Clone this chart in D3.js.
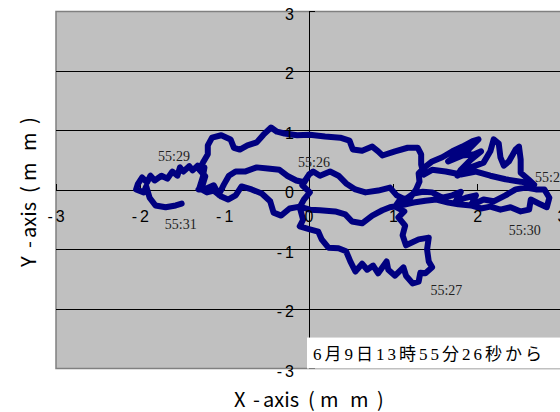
<!DOCTYPE html>
<html>
<head>
<meta charset="utf-8">
<script src="https://cdn.jsdelivr.net/npm/d3@7"></script>
<style>
html,body{margin:0;padding:0;background:#fff;}
svg{display:block;}
</style>
</head>
<body>
<svg id="chart" width="560" height="412"></svg>
<script>
// ---- data (mm) ----
const xTicks = [-3, -2, -1, 0, 1, 2, 3];
const yTicks = [-3, -2, -1, 0, 1, 2, 3];
const gridY = [-2, -1, 1, 2];

// trajectory segments, each from one time mark to the next
const seg26to27 = [[-0.02,0.21],[-0.08,0.08],[0.01,-0.04],[-0.06,-0.16],[-0.11,-0.29],[-0.07,-0.50],[-0.11,-0.61],[0.01,-0.66],[0.11,-0.70],[0.15,-0.83],[0.23,-0.97],[0.35,-0.98],[0.44,-1.03],[0.49,-1.20],[0.55,-1.37],[0.63,-1.24],[0.69,-1.34],[0.76,-1.27],[0.82,-1.40],[0.92,-1.20],[0.94,-1.34],[1.02,-1.44],[1.12,-1.30],[1.15,-1.44],[1.23,-1.57],[1.30,-1.54],[1.32,-1.39],[1.38,-1.40],[1.46,-1.30]];
const seg27to28 = [[1.42,-1.20],[1.40,-1.00],[1.42,-0.80],[1.30,-0.83],[1.15,-0.93],[1.11,-0.76],[1.14,-0.60],[1.06,-0.46],[1.13,-0.36],[1.02,-0.28],[1.08,-0.16],[1.20,-0.13],[1.27,0.01],[1.31,0.14],[1.30,0.28],[1.37,0.38],[1.46,0.48],[1.58,0.55],[1.70,0.65],[1.82,0.73],[1.94,0.82],[2.01,0.85],[1.89,0.68],[1.74,0.58],[1.65,0.48],[1.82,0.58],[1.96,0.60],[2.04,0.65],[1.92,0.51],[1.80,0.34],[1.76,0.24],[1.92,0.38],[2.07,0.46],[2.15,0.65],[2.19,0.85],[2.25,0.78],[2.27,0.55],[2.31,0.41],[2.37,0.48],[2.45,0.68],[2.49,0.73],[2.51,0.51],[2.51,0.29],[2.60,0.18],[2.67,0.09]];
const seg28to29 = [[2.51,0.14],[2.33,0.18],[2.15,0.24],[1.98,0.31],[1.80,0.26],[1.62,0.31],[1.46,0.34],[1.36,0.26],[1.33,0.43],[1.33,0.60],[1.29,0.71],[1.17,0.71],[1.02,0.65],[0.87,0.58],[0.82,0.65],[0.75,0.73],[0.63,0.66],[0.52,0.68],[0.48,0.83],[0.37,0.88],[0.19,0.90],[0.01,0.93],[-0.14,0.92],[-0.29,0.95],[-0.38,0.98],[-0.45,1.05],[-0.54,0.93],[-0.62,0.80],[-0.73,0.75],[-0.82,0.68],[-0.89,0.71],[-0.93,0.85],[-1.04,0.92],[-1.15,0.88],[-1.20,0.75],[-1.20,0.60],[-1.25,0.48]];
const seg29to30 = [[-1.30,0.34],[-1.23,0.23],[-1.26,0.09],[-1.31,0.01],[-1.21,0.03],[-1.13,0.08],[-1.07,-0.08],[-1.01,0.09],[-0.95,0.24],[-0.87,0.31],[-0.76,0.31],[-0.62,0.38],[-0.49,0.36],[-0.35,0.34],[-0.26,0.24],[-0.15,0.16],[-0.06,0.13],[0,0.26],[0.05,0.31],[0.13,0.24],[0.25,0.31],[0.35,0.24],[0.44,0.11],[0.55,0.01],[0.67,-0.04],[0.82,-0.01],[0.96,0.04],[1.04,-0.09],[1.14,-0.16],[1.24,-0.06],[1.35,-0.03],[1.46,-0.04],[1.58,-0.13],[1.70,-0.09],[1.80,-0.03],[1.74,-0.19],[1.86,-0.13],[1.98,-0.09],[1.92,-0.26],[2.07,-0.16],[2.19,-0.19],[2.33,-0.09],[2.45,0.01],[2.57,0.04],[2.69,0.01],[2.79,0.01],[2.85,-0.13],[2.82,-0.29],[2.73,-0.23],[2.63,-0.16],[2.61,-0.33],[2.51,-0.36]];
const seg30to31 = [[2.39,-0.29],[2.27,-0.33],[2.15,-0.28],[2.04,-0.31],[1.92,-0.26],[1.77,-0.24],[1.65,-0.21],[1.51,-0.16],[1.38,-0.18],[1.24,-0.21],[1.08,-0.26],[0.96,-0.29],[0.87,-0.34],[0.75,-0.43],[0.63,-0.56],[0.51,-0.53],[0.43,-0.41],[0.31,-0.36],[0.13,-0.34],[0.01,-0.33],[-0.11,-0.28],[-0.23,-0.31],[-0.33,-0.43],[-0.42,-0.38],[-0.46,-0.19],[-0.56,-0.06],[-0.68,0.01],[-0.80,0.06],[-0.87,-0.09],[-0.96,-0.16],[-1.04,-0.11],[-1.13,-0.01],[-1.21,-0.04],[-1.30,0.03],[-1.26,0.21],[-1.24,0.38],[-1.32,0.41],[-1.38,0.33],[-1.42,0.40],[-1.49,0.31],[-1.53,0.38],[-1.56,0.24],[-1.62,0.31],[-1.68,0.19],[-1.75,0.24],[-1.83,0.16],[-1.88,0.24],[-1.92,0.13],[-1.98,0.21],[-2.03,0.10],[-2.05,0.01],[-1.96,-0.04],[-1.93,0.06],[-1.89,-0.13],[-1.82,-0.26],[-1.70,-0.29],[-1.58,-0.26],[-1.51,-0.23]];

// time labels (text anchor position in mm)
const timeLabels = ["55:26", "55:27", "55:28", "55:29", "55:30", "55:31"];
const timeLabelX = [-0.13, 1.44, 2.68, -1.79, 2.37, -1.71];
const timeLabelY = [0.39, -1.76, 0.14, 0.48, -0.75, -0.66];

const noteText = "6月9日13時55分26秒から";
const xTitleParts = ["X", "-", "axis", "(", "m", "m", ")"];
const yTitleParts = ["Y", "-", "axis", "(", "m", "m", ")"];

// ---- drawing ----
const svg = d3.select("#chart");
const x = d3.scaleLinear().domain([-3, 3]).range([56, 562]);
const y = d3.scaleLinear().domain([-3, 3]).range([368.5, 11.5]);

// plot area
svg.append("rect")
  .attr("x", x(-3)).attr("y", y(3))
  .attr("width", x(3) - x(-3)).attr("height", y(-3) - y(3))
  .attr("fill", "#C0C0C0").attr("stroke", "#808080").attr("stroke-width", 1.5);

// gridlines
svg.append("g").selectAll("line").data(gridY).join("line")
  .attr("x1", x(-3)).attr("x2", x(3))
  .attr("y1", d => y(d)).attr("y2", d => y(d))
  .attr("stroke", "#000").attr("stroke-width", 1).attr("shape-rendering", "crispEdges");

// x axis line at y=0
svg.append("line").attr("x1", x(-3)).attr("x2", x(3)).attr("y1", y(0)).attr("y2", y(0))
  .attr("stroke", "#000").attr("stroke-width", 1).attr("shape-rendering", "crispEdges");
// y axis line at x=0
svg.append("line").attr("x1", x(0)).attr("x2", x(0)).attr("y1", y(3)).attr("y2", y(-3))
  .attr("stroke", "#000").attr("stroke-width", 1).attr("shape-rendering", "crispEdges");

// tick marks
svg.append("g").selectAll("line").data(xTicks).join("line")
  .attr("x1", d => x(d)).attr("x2", d => x(d))
  .attr("y1", y(0)).attr("y2", y(0) - 6)
  .attr("stroke", "#000").attr("shape-rendering", "crispEdges");
svg.append("g").selectAll("line").data(yTicks).join("line")
  .attr("x1", x(0)).attr("x2", x(0) + 6)
  .attr("y1", d => y(d)).attr("y2", d => y(d))
  .attr("stroke", "#000").attr("shape-rendering", "crispEdges");

// trajectory
const allSegs = [seg26to27, seg27to28, seg28to29, seg29to30, seg30to31];
const track = [].concat(...allSegs);
const line = d3.line().x(d => x(d[0])).y(d => y(d[1])).curve(d3.curveLinear);
svg.append("path").datum(track)
  .attr("d", line)
  .attr("fill", "none").attr("stroke", "#000080").attr("stroke-width", 6)
  .attr("stroke-linejoin", "round").attr("stroke-linecap", "round");

// tick labels
function tickLabel(sel, d) {
  if (d < 0) {
    sel.append("tspan").text("-");
    sel.append("tspan").attr("dx", 3).text(Math.abs(d));
  } else {
    sel.text(d);
  }
}
const font = "'Liberation Sans', Arial, sans-serif";
svg.append("g").selectAll("text").data(xTicks).join("text")
  .attr("x", d => x(d)).attr("y", y(0) + 32)
  .attr("text-anchor", "middle")
  .attr("font-family", font).attr("font-size", 16).attr("fill", "#000")
  .each(function(d) { tickLabel(d3.select(this), d); });
svg.append("g").selectAll("text").data(yTicks).join("text")
  .attr("x", x(0) - 15).attr("y", d => y(d) + 8)
  .attr("text-anchor", "end")
  .attr("font-family", font).attr("font-size", 16).attr("fill", "#000")
  .each(function(d) { tickLabel(d3.select(this), d); });

// time labels
svg.append("g").selectAll("text").data(timeLabels).join("text")
  .attr("x", (d, i) => x(timeLabelX[i])).attr("y", (d, i) => y(timeLabelY[i]))
  .attr("font-family", "'Liberation Serif', 'Times New Roman', serif")
  .attr("font-size", 14).attr("fill", "#222")
  .text(d => d);

// note box
const boxTop = y(-2.48);
svg.append("rect")
  .attr("x", x(0) - 2).attr("y", boxTop)
  .attr("width", 560 - (x(0) - 2) + 5).attr("height", y(-3) - boxTop)
  .attr("fill", "#fff");
svg.append("text")
  .attr("x", x(0) + 4).attr("y", boxTop + 22)
  .attr("font-family", "'Liberation Serif', 'Noto Sans CJK JP', serif")
  .attr("font-size", 17).attr("letter-spacing", 3).attr("fill", "#000")
  .text(noteText);

// axis titles: letter offsets along the title (px), mimicking the wide spacing
const partOffsets = [0, 19, 29, 74, 86, 116, 143];
const tfont = "'Noto Sans CJK JP', 'Noto Sans', sans-serif";
const titleLen = 150;
const xt = svg.append("text")
  .attr("y", 407)
  .attr("font-family", tfont).attr("font-size", 20).attr("fill", "#000");
xTitleParts.forEach((p, i) => {
  xt.append("tspan").attr("x", x(0) - titleLen / 2 + partOffsets[i]).text(p);
});

const yt = svg.append("text")
  .attr("transform", `translate(36,${y(0) + 2}) rotate(-90)`)
  .attr("font-family", tfont).attr("font-size", 20).attr("fill", "#000");
yTitleParts.forEach((p, i) => {
  yt.append("tspan").attr("x", -titleLen / 2 + partOffsets[i]).text(p);
});
</script>
</body>
</html>
